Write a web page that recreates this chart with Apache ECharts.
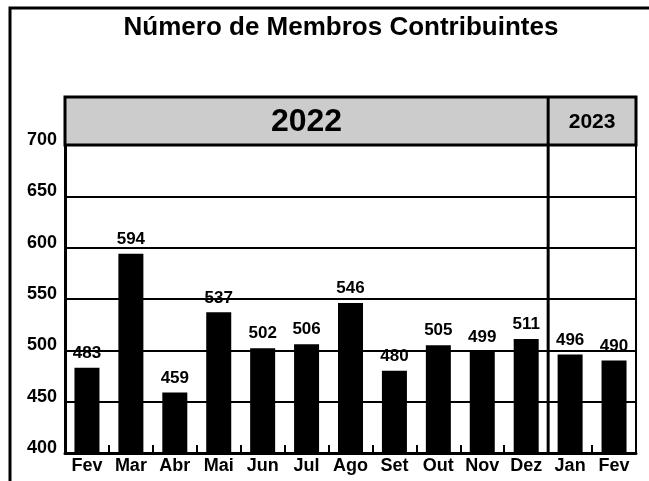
<!DOCTYPE html>
<html>
<head>
<meta charset="utf-8">
<script src="https://cdn.jsdelivr.net/npm/echarts@6/dist/echarts.min.js"></script>
<style>
  html, body { margin: 0; padding: 0; background: #fff; }
  #chart { width: 649px; height: 481px; }
</style>
</head>
<body>
<div id="chart"></div>
<script>
// meses (fev/2022 a fev/2023)
const months = ['Fev', 'Mar', 'Abr', 'Mai', 'Jun', 'Jul', 'Ago', 'Set', 'Out', 'Nov', 'Dez', 'Jan', 'Fev'];
const members = [483, 594, 459, 537, 502, 506, 546, 480, 505, 499, 511, 496, 490];
const yTicks = [400, 450, 500, 550, 600, 650, 700];
const years = ['2022', '2023'];
const splitIndex = 11; // primeiro mês de 2023

const FONT = "'Liberation Sans', Arial, sans-serif";
const chart = echarts.init(document.getElementById('chart'));

const option = {
  animation: false,
  backgroundColor: '#fff',
  title: {
    text: 'Número de Membros Contribuintes',
    left: 341,
    top: 15,
    padding: 0,
    textAlign: 'center',
    textStyle: { fontFamily: FONT, fontSize: 26, fontWeight: 'bold', color: '#000' }
  },
  grid: {
    left: 65,
    right: 13,
    top: 145,
    bottom: 28,
    show: true,
    borderColor: '#000',
    borderWidth: 2,
    backgroundColor: 'transparent'
  },
  xAxis: {
    type: 'category',
    data: months,
    boundaryGap: true,
    axisLine: { lineStyle: { color: '#000', width: 3 } },
    axisTick: { show: true, inside: true, length: 8, lineStyle: { color: '#000', width: 2 } },
    axisLabel: {
      interval: 0,
      margin: 4,
      color: '#000',
      fontFamily: FONT,
      fontSize: 18,
      fontWeight: 'bold'
    }
  },
  yAxis: {
    type: 'value',
    min: yTicks[0],
    max: yTicks[yTicks.length - 1],
    interval: 50,
    axisLine: { show: true, lineStyle: { color: '#000', width: 3 } },
    axisTick: { show: false },
    splitLine: { lineStyle: { color: '#000', width: 2 } },
    axisLabel: {
      margin: 8,
      color: '#000',
      fontFamily: FONT,
      fontSize: 18,
      fontWeight: 'bold',
      verticalAlign: 'bottom',
      lineHeight: 10
    }
  },
  series: [{
    type: 'bar',
    data: members,
    barWidth: 25,
    itemStyle: { color: '#000' },
    label: {
      show: true,
      position: 'top',
      distance: 6,
      color: '#000',
      fontFamily: FONT,
      fontSize: 17,
      fontWeight: 'bold'
    }
  }]
};
chart.setOption(option);

// faixa dos anos e divisória entre 2022/2023
const gLeft = 65, gRight = 649 - 13;
const gTop = chart.convertToPixel({ yAxisIndex: 0 }, yTicks[yTicks.length - 1]);
const gBottom = chart.convertToPixel({ yAxisIndex: 0 }, yTicks[0]);
const xSplit = (chart.convertToPixel({ xAxisIndex: 0 }, splitIndex - 1) +
                chart.convertToPixel({ xAxisIndex: 0 }, splitIndex)) / 2;
const bandTop = 97;

chart.setOption({
  graphic: [
    {
      type: 'rect',
      shape: { x: 10, y: 8, width: 700, height: 520 },
      style: { fill: null, stroke: '#000', lineWidth: 3 },
      silent: true
    },
    {
      type: 'rect',
      shape: { x: gLeft, y: bandTop, width: gRight - gLeft, height: gTop - bandTop },
      style: { fill: '#cccccc', stroke: '#000', lineWidth: 3 },
      silent: true
    },
    {
      type: 'line',
      shape: { x1: xSplit, y1: bandTop, x2: xSplit, y2: gBottom },
      style: { stroke: '#000', lineWidth: 3 },
      z: 10,
      silent: true
    },
    {
      type: 'text',
      x: (gLeft + xSplit) / 2,
      y: (bandTop + gTop) / 2 + 1,
      style: {
        text: years[0], fill: '#000', font: 'bold 32px ' + FONT,
        align: 'center', verticalAlign: 'middle'
      },
      silent: true
    },
    {
      type: 'text',
      x: (xSplit + gRight) / 2,
      y: (bandTop + gTop) / 2 + 1,
      style: {
        text: years[1], fill: '#000', font: 'bold 21px ' + FONT,
        align: 'center', verticalAlign: 'middle'
      },
      silent: true
    }
  ]
});
</script>
</body>
</html>
